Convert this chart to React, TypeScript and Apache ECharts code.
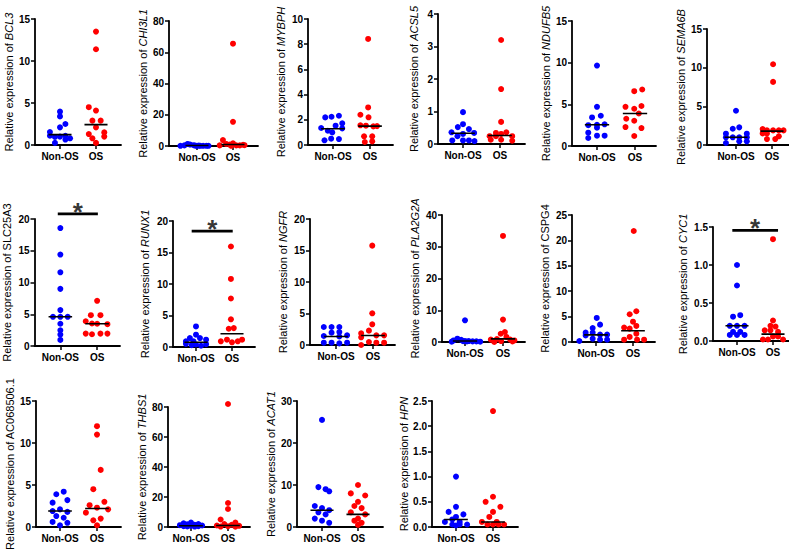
import React, { useEffect, useRef } from 'react';
import * as echarts from 'echarts';

const panelGenes = ['BCL3', 'CHI3L1', 'MYBPH', 'ACSL5', 'NDUFB5', 'SEMA6B', 'SLC25A3', 'RUNX1', 'NGFR', 'PLA2G2A', 'CSPG4', 'CYC1', 'AC068506.1', 'THBS1', 'ACAT1', 'HPN'];
const geneItalic = [1, 1, 1, 1, 1, 1, 0, 1, 1, 1, 0, 1, 0, 1, 1, 1];
const yMaxValues = [15, 80, 10, 4, 15, 15, 20, 20, 20, 40, 25, 1.5, 15, 80, 30, 2.5];
const yStepValues = [5, 20, 2, 1, 5, 5, 5, 5, 5, 10, 5, 0.5, 5, 20, 10, 0.5];
const yDecimals = [0, 0, 0, 0, 0, 0, 0, 0, 0, 0, 0, 1, 0, 0, 0, 1];
const groupLabels = ['Non-OS', 'OS'];

const nonOsValues = [
  [3.97, 3.4, 2.5, 2.1, 1.55, 1.1, 1.1, 1.0, 0.95, 0.8, 0.65, 0.25],
  [0.1, 0.4, 1.3, 0.9, 0.5, 0.1, 0.1, 0.1, 0.1, 0.1, 0.2, 0.3],
  [2.19, 2.24, 2.32, 1.72, 1.35, 1.53, 1.13, 1.32, 1.0, 0.5, 0.47, 0.37],
  [0.98, 0.61, 0.52, 0.46, 0.36, 0.31, 0.34, 0.24, 0.11, 0.11, 0.11, 0.09],
  [9.65, 4.7, 3.43, 3.63, 2.5, 2.55, 2.2, 2.6, 1.6, 1.24, 1.24, 0.96],
  [4.43, 2.1, 2.28, 1.46, 1.46, 0.99, 0.99, 0.99, 0.99, 0.47, 0.47, 0.26],
  [18.57, 14.4, 11.6, 9.0, 5.65, 4.6, 4.6, 4.6, 3.5, 2.48, 1.8, 0.95],
  [3.26, 1.95, 1.42, 1.42, 1.16, 0.9, 0.9, 0.5, 0.3, 0.4, 0.2, 0.45],
  [2.86, 2.86, 2.86, 1.96, 2.06, 1.43, 1.53, 0.37, 0.37, 0.26, 0.37, 1.35],
  [6.84, 1.05, 0.7, 0.5, 0.3, 0.3, 0.2, 0.2, 0.1, 0.1, 0.15, 0.25],
  [4.74, 3.42, 2.76, 1.84, 1.84, 1.3, 1.45, 1.45, 0.66, 0.46, 0.46, 0.2],
  [1.0, 0.73, 0.32, 0.34, 0.2, 0.2, 0.2, 0.08, 0.08, 0.08, 0.12, 0.12],
  [4.2, 3.9, 3.2, 2.9, 2.1, 1.9, 1.8, 1.3, 1.1, 0.6, 0.5, 0.2],
  [3.0, 2.5, 2.0, 1.8, 1.5, 1.2, 1.0, 0.8, 0.6, 0.5, 0.4, 0.3],
  [25.5, 9.5, 9.0, 8.5, 5.0, 4.5, 4.0, 3.5, 3.0, 2.0, 1.5, 1.0],
  [1.0, 0.4, 0.3, 0.25, 0.2, 0.15, 0.1, 0.1, 0.05, 0.05, 0.05, 0.03],
];
const nonOsJitter = [
  [0, 0, 0.15, 0, -0.28, -0.28, 0.15, 0, -0.14, 0.28, 0.15, -0.14],
  [-0.46, -0.35, -0.26, -0.19, -0.09, 0, 0.09, 0.17, 0.26, 0.32, -0.05, 0.05],
  [-0.21, -0.04, 0.16, 0.25, -0.32, 0.07, -0.14, 0.25, -0.02, -0.05, 0.16, -0.23],
  [0, 0, -0.14, 0.16, -0.31, 0, 0.3, -0.15, -0.29, 0, 0.16, 0.31],
  [0, 0, -0.13, 0.1, -0.23, 0, 0, 0.2, -0.23, 0, 0.2, -0.23],
  [0, -0.09, 0.09, -0.28, 0.3, -0.09, 0.09, -0.28, 0.3, 0.09, 0.3, -0.28],
  [0, 0, 0, 0, 0, -0.2, 0, 0.2, 0, 0, 0, 0],
  [0, 0, -0.17, 0.11, 0.28, -0.28, -0.07, -0.28, -0.12, 0, 0.14, 0.28],
  [-0.33, -0.12, 0.09, -0.12, 0.09, -0.33, 0.3, -0.33, -0.12, 0.09, 0.3, 0.09],
  [0, -0.2, -0.1, -0.3, 0, 0.1, 0.2, 0.3, 0.4, -0.35, 0.05, -0.05],
  [0.02, 0.11, -0.09, -0.28, -0.09, -0.28, 0.11, 0.3, -0.09, 0.11, 0.3, -0.45],
  [0, 0, -0.11, 0.09, 0, -0.2, 0.21, -0.2, 0, 0.21, -0.11, 0.09],
  [0.1, -0.1, 0.2, -0.2, 0, -0.2, 0.2, -0.1, 0.1, -0.2, 0.2, 0],
  [0, -0.2, 0.2, -0.1, 0.1, -0.3, 0.3, 0, -0.2, 0.2, -0.1, 0.1],
  [0, -0.1, 0.1, 0.2, -0.2, 0, 0.2, -0.1, 0.1, -0.2, 0, 0.2],
  [0, 0, -0.2, 0.2, 0, -0.1, 0.1, -0.3, 0.3, -0.1, 0.1, 0],
];
const osValues = [
  [13.5, 11.4, 4.5, 4.1, 2.9, 2.9, 2.1, 1.5, 1.3, 1.0, 0.8, 0.25],
  [65.5, 15.5, 3.8, 1.7, 1.3, 0.9, 0.5, 0.4, 0.4, 0.8, 0.4, 0.1],
  [8.42, 2.98, 2.4, 2.2, 1.56, 1.53, 1.5, 0.69, 0.69, 0.24, 0.29, 1.48],
  [3.2, 1.69, 0.68, 0.34, 0.36, 0.24, 0.31, 0.24, 0.24, 0.13, 0.13, 0.1],
  [6.58, 6.78, 4.7, 4.8, 4.47, 3.9, 3.27, 3.03, 2.27, 2.15, 1.2],
  [10.44, 8.16, 2.06, 1.89, 1.89, 1.89, 1.89, 1.5, 1.5, 1.12, 0.77, 0.77],
  [7.12, 4.85, 4.85, 3.9, 3.54, 3.5, 3.43, 1.95, 1.85, 1.95, 1.95],
  [15.95, 10.8, 7.7, 4.4, 2.9, 3.0, 0.9, 1.16, 0.74, 0.9, 1.16],
  [15.77, 5.03, 3.28, 1.85, 2.28, 1.22, 1.53, 1.53, 0.0, 0.48, 0.37, 0.37],
  [33.4, 7.05, 3.15, 2.6, 1.6, 0.95, 0.75, 0.75, 0.0, 0.3, 0.5, 0.2],
  [21.85, 6.05, 5.46, 4.0, 2.83, 2.63, 3.16, 1.64, 0.99, 0.46, 0.46, 0.46],
  [1.34, 0.27, 0.2, 0.19, 0.14, 0.14, 0.12, 0.02, 0.02, 0.06, 0.06, 0.02],
  [12.0, 11.0, 6.8, 4.5, 3.0, 2.6, 2.3, 2.1, 1.7, 1.0, 0.8, 0.2],
  [82, 16, 12, 5, 3, 2, 1.5, 1, 0.8, 0.5, 0.3, 0.2],
  [10, 8, 7.5, 6, 5, 4.5, 3.5, 3, 2, 1.5, 1, 0.5],
  [2.3, 0.6, 0.5, 0.4, 0.3, 0.2, 0.1, 0.1, 0.05, 0.05, 0.05, 0.05],
];
const osJitter = [
  [0, 0, -0.2, 0, -0.1, 0.13, 0, 0.23, -0.2, 0.23, -0.1, 0],
  [0, 0, -0.28, 0, -0.19, -0.09, 0.32, 0.09, 0.19, 0.28, -0.37, -0.05],
  [-0.05, -0.05, -0.26, -0.04, -0.26, -0.11, 0.19, -0.16, 0.06, -0.14, 0.06, 0.09],
  [0.03, 0.03, 0.03, -0.11, 0.17, -0.28, 0.03, -0.11, 0.33, -0.25, 0.03, 0.33],
  [-0.02, 0.19, -0.25, 0.17, -0.02, 0.1, -0.23, -0.02, -0.25, 0.17, -0.02],
  [0.03, 0.03, -0.26, -0.14, 0.03, 0.19, 0.32, -0.26, -0.14, 0.19, -0.14, 0.09],
  [0, -0.17, 0.09, -0.31, -0.14, 0, 0.28, -0.31, -0.14, 0.09, 0.28],
  [-0.03, -0.03, -0.03, -0.03, -0.09, 0.05, -0.31, -0.14, 0, 0.16, 0.28],
  [-0.02, -0.02, -0.02, -0.32, -0.11, -0.32, 0.09, 0.3, -0.32, -0.11, 0.09, 0.3],
  [0, 0, 0.05, -0.06, 0.09, -0.16, -0.32, 0.19, -0.23, -0.05, 0.3, 0.25],
  [0.02, 0.09, -0.09, 0.0, -0.24, -0.09, 0.09, 0.09, -0.09, -0.24, 0.11, 0.3],
  [0, 0, -0.07, 0.07, -0.23, -0.07, 0.14, -0.28, -0.14, 0, 0.14, 0.28],
  [0, 0, 0.1, -0.1, 0.2, -0.2, 0, 0.3, -0.3, 0.1, -0.1, 0],
  [0, 0, 0, -0.2, 0.2, -0.1, 0.1, -0.3, 0.3, 0, -0.2, 0.2],
  [0, -0.2, 0.2, 0, -0.1, 0.1, -0.2, 0.2, 0, -0.1, 0.1, 0],
  [0, 0, -0.2, 0.2, 0, -0.1, 0.1, -0.3, 0.3, -0.15, 0.15, 0],
];
const nonOsMedians = [1.23, 0.3, 1.29, 0.33, 2.55, 1.0, 4.6, 0.75, 1.35, 0.3, 1.4, 0.2, 1.9, 0.8, 4.0, 0.15];
const osMedians = [2.42, 1.0, 1.5, 0.26, 3.9, 1.8, 3.5, 2.1, 1.5, 1.0, 2.2, 0.09, 2.2, 1.0, 3.0, 0.1];

const sigPanels = [6, 7, 11];
const sigLevels = [20.8, 18.4, 1.456];
const sigLeftEnds = [0.93, 0.88, 0.87];
const sigRightEnds = [2.02, 2.02, 2.14];
const sigMarks = ['*', '*', '*'];

// layout: [axisX, top, bottom, tickNonOS, tickOS, xEnd, nameDistance]
const panelLayout = [
  [35, 19, 145, 60, 96, 121, 22],
  [169, 21, 146, 197, 233, 258, 24],
  [308, 19, 145, 333, 370, 393, 27],
  [438, 14, 144, 463, 500, 525, 24],
  [572, 21, 146, 597, 635, 656, 25],
  [707, 29, 145, 736, 772, 789, 23],
  [34, 219, 346, 60, 97, 120, 28],
  [173, 221, 347, 196, 232, 255, 28],
  [310, 219, 345, 336, 373, 395, 27],
  [442, 215, 342, 465, 503, 525, 27],
  [572, 215, 342, 596, 633, 655, 27],
  [713, 227, 341, 737, 773, 789, 30],
  [36, 401, 527, 60, 97, 121, 24],
  [168, 407, 527, 191, 228, 250, 25],
  [297, 401, 527, 322, 358, 383, 23],
  [432, 401, 527, 456, 493, 518, 25],
];

const FONT = '"Liberation Sans", Arial, Helvetica, sans-serif';
const BLUE = '#0000ff';
const RED = '#ff0000';

function buildOption() {
  const grid: any[] = [];
  const xAxis: any[] = [];
  const yAxis: any[] = [];
  const series: any[] = [];
  const axisLineStyle = { color: '#000', width: 1.8 };

  panelGenes.forEach((gene, i) => {
    const [ax, top, bottom, t1, t2, xe, nd] = panelLayout[i];
    const sp = t2 - t1;
    const xmin = 1 - (t1 - ax) / sp;
    const xmax = 2 + (xe - t2) / sp;
    grid.push({ left: ax, top, width: xe - ax, height: bottom - top });
    xAxis.push({
      type: 'value', gridIndex: i, min: xmin, max: xmax,
      axisLine: { show: true, onZero: false, lineStyle: axisLineStyle },
      axisTick: { show: true, customValues: [1, 2], length: 4, lineStyle: { color: '#000', width: 1.5 } },
      axisLabel: {
        customValues: [1, 2],
        formatter: (v: number) => (Math.abs(v - 1) < 0.01 ? groupLabels[0] : groupLabels[1]),
        fontFamily: FONT, fontWeight: 'bold', fontSize: 10, color: '#000', margin: 6,
      },
      splitLine: { show: false },
    });
    const dec = yDecimals[i];
    const name = 'Relative expression of ' + (geneItalic[i] ? '{i|' + gene + '}' : gene);
    yAxis.push({
      type: 'value', gridIndex: i, min: 0, max: yMaxValues[i], interval: yStepValues[i],
      axisLine: { show: true, onZero: false, lineStyle: axisLineStyle },
      axisTick: { show: true, length: 4, lineStyle: { color: '#000', width: 1.5 } },
      axisLabel: {
        formatter: (v: number) => v.toFixed(dec),
        fontFamily: FONT, fontWeight: 'bold', fontSize: 10, color: '#000', margin: 5,
      },
      splitLine: { show: false },
      name, nameLocation: 'middle', nameGap: nd - 5.5, nameRotate: 90,
      nameTextStyle: {
        fontFamily: FONT, fontSize: 11, color: '#000',
        rich: { i: { fontFamily: FONT, fontSize: 11, color: '#000', fontStyle: 'italic' } },
      },
    });
    series.push({
      type: 'scatter', xAxisIndex: i, yAxisIndex: i, symbolSize: 6, clip: false,
      itemStyle: { color: BLUE, opacity: 1 }, silent: true,
      data: nonOsValues[i].map((v, k) => [1 + nonOsJitter[i][k], v]),
    });
    series.push({
      type: 'scatter', xAxisIndex: i, yAxisIndex: i, symbolSize: 6, clip: false,
      itemStyle: { color: RED, opacity: 1 }, silent: true,
      data: osValues[i].map((v, k) => [2 + osJitter[i][k], v]),
    });
    series.push({
      type: 'line', xAxisIndex: i, yAxisIndex: i, symbol: 'none', silent: true,
      lineStyle: { color: '#000', width: 1.6 },
      data: [[0.68, nonOsMedians[i]], [1.32, nonOsMedians[i]]],
    });
    series.push({
      type: 'line', xAxisIndex: i, yAxisIndex: i, symbol: 'none', silent: true,
      lineStyle: { color: '#000', width: 1.6 },
      data: [[1.68, osMedians[i]], [2.32, osMedians[i]]],
    });
  });

  sigPanels.forEach((p, k) => {
    series.push({
      type: 'line', xAxisIndex: p, yAxisIndex: p, symbol: 'none', silent: true, clip: false,
      lineStyle: { color: '#000', width: 2.6 },
      data: [[sigLeftEnds[k], sigLevels[k]], [sigRightEnds[k], sigLevels[k]]],
    });
    series.push({
      type: 'scatter', xAxisIndex: p, yAxisIndex: p, symbolSize: 0, silent: true, clip: false,
      data: [[(sigLeftEnds[k] + sigRightEnds[k]) / 2, sigLevels[k]]],
      label: {
        show: true, position: 'top', formatter: sigMarks[k], distance: 0, offset: [0, 11],
        fontFamily: FONT, fontSize: 26, fontWeight: 'bold', color: '#000',
      },
    });
  });

  return {
    animation: false,
    backgroundColor: '#ffffff',
    grid, xAxis, yAxis, series,
  };
}

export default function App() {
  const ref = useRef<HTMLDivElement>(null);
  useEffect(() => {
    if (!ref.current) return;
    const chart = echarts.init(ref.current, undefined, { renderer: 'svg' });
    chart.setOption(buildOption() as any);
    return () => chart.dispose();
  }, []);
  return (
    <div
      ref={ref}
      style={{ position: 'absolute', left: 0, top: 0, width: 789, height: 556, background: '#fff' }}
    />
  );
}
